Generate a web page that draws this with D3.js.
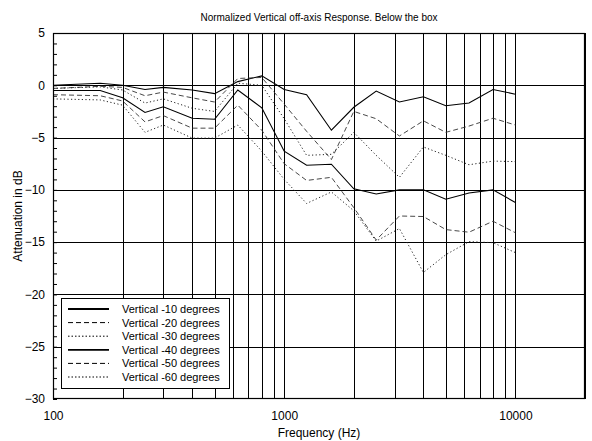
<!DOCTYPE html>
<html><head><meta charset="utf-8">
<script src="https://cdn.jsdelivr.net/npm/d3@7"></script>
<style>body{margin:0;background:#fff}svg{display:block}text{font-family:"Liberation Sans",Arial,sans-serif}</style>
</head><body><svg id="c" width="592" height="441"></svg>
<script>
const freqs = [100,160,200,250,300,400,500,630,800,1000,1250,1600,2000,2500,3150,4000,5000,6300,8000,10000];
const v10 = [0,0.2,0,-0.4,-0.2,-0.45,-0.8,0.35,0.9,-0.4,-0.9,-4.3,-2.1,-0.55,-1.6,-1.1,-1.95,-1.7,-0.4,-0.85];
const v20 = [-0.3,-0.1,-0.2,-1.0,-0.65,-1.2,-1.6,0.65,0.75,-1.8,-4.4,-7.1,-2.5,-3.2,-4.85,-3.4,-4.5,-3.9,-3.15,-3.8];
const v30 = [-0.3,-0.15,-0.45,-1.7,-1.3,-2.2,-2.5,0.2,0.0,-3.2,-6.7,-6.6,-4.5,-6.7,-8.8,-5.9,-6.7,-7.6,-7.25,-7.3];
const v40 = [-0.5,-0.5,-1.2,-2.6,-2.05,-3.15,-3.25,-0.45,-2.15,-6.3,-7.65,-7.55,-9.9,-10.4,-10.0,-10.0,-10.9,-10.3,-10.0,-11.2];
const v50 = [-0.9,-1.0,-1.5,-3.5,-2.9,-4.1,-4.1,-1.9,-4.3,-7.5,-9.1,-8.8,-11.7,-14.8,-12.5,-12.55,-13.8,-14.05,-13.0,-14.1];
const v60 = [-1.3,-1.4,-1.9,-4.5,-3.8,-5.05,-5.05,-3.8,-6.3,-9.0,-11.3,-10.2,-12.0,-14.9,-13.7,-17.9,-16.2,-14.95,-15.05,-16.0];
const seriesNames = ["Vertical -10 degrees","Vertical -20 degrees","Vertical -30 degrees","Vertical -40 degrees","Vertical -50 degrees","Vertical -60 degrees"];
const seriesValues = [v10,v20,v30,v40,v50,v60];
const xTickLabels = [100,1000,10000];
const yTickLabels = [5,0,-5,-10,-15,-20,-25,-30];

const styles = [
  {dash:null, color:"#000", w:1.1},
  {dash:"5,3", color:"#333", w:0.9},
  {dash:"1.2,2.4", color:"#222", w:1},
  {dash:null, color:"#000", w:1.1},
  {dash:"5,3", color:"#333", w:0.9},
  {dash:"1.2,2.4", color:"#222", w:1}
];

const svg = d3.select("#c");
const L=53, R=585, T=33, B=399;
const x = d3.scaleLog().domain([100,20000]).range([L,R]);
const y = d3.scaleLinear().domain([-30,5]).range([B,T]);

svg.append("text").attr("x",319).attr("y",21).attr("text-anchor","middle").attr("font-size",10).text("Normalized Vertical off-axis Response. Below the box");

// grid
const g = svg.append("g");
const xGrid = [];
for (let d=100; d<=10000; d*=10) for (let k=1;k<10;k++){ const f=d*k; if (f<=20000 && f>100) xGrid.push(f); }
xGrid.push(20000);
g.selectAll("line.vx").data(xGrid).join("line").attr("class","vx")
  .attr("x1",d=>Math.round(x(d))+0.5).attr("x2",d=>Math.round(x(d))+0.5).attr("y1",T).attr("y2",B)
  .attr("stroke","#000").attr("stroke-width",1);
g.selectAll("line.hy").data(d3.range(-25,5,5)).join("line").attr("class","hy")
  .attr("x1",L).attr("x2",R).attr("y1",d=>Math.round(y(d))+0.5).attr("y2",d=>Math.round(y(d))+0.5)
  .attr("stroke","#000").attr("stroke-width",1);

// y minor ticks
const yAxis = d3.axisRight(y).tickValues(d3.range(-30,6,1)).tickSize(4).tickFormat("");
const ya = svg.append("g").attr("transform",`translate(${L},0)`).call(yAxis);
ya.select(".domain").remove();
ya.selectAll("line").attr("stroke","#000");

// y labels
const yl = d3.axisLeft(y).tickValues(yTickLabels).tickSize(0).tickPadding(8).tickFormat(d3.format("d"));
const yg = svg.append("g").attr("transform",`translate(${L},0)`).call(yl);
yg.select(".domain").remove();
yg.selectAll("text").attr("font-size",12).attr("font-family","Liberation Sans, Arial, sans-serif").attr("fill","#000");

const xl = d3.axisBottom(x).tickValues(xTickLabels).tickSize(0).tickPadding(12).tickFormat(d3.format("d"));
const xg = svg.append("g").attr("transform",`translate(0,${B})`).call(xl);
xg.select(".domain").remove();
xg.selectAll("text").attr("font-size",12).attr("font-family","Liberation Sans, Arial, sans-serif").attr("fill","#000");

svg.append("text").attr("x",319).attr("y",437).attr("text-anchor","middle").attr("font-size",12).text("Frequency (Hz)");
svg.append("text").attr("transform","translate(22,216) rotate(-90)").attr("text-anchor","middle").attr("font-size",12).text("Attenuation in dB");

// lines
const line = d3.line().x((d,i)=>x(freqs[i])).y(d=>y(d));
seriesValues.forEach((vals,i)=>{
  svg.append("path").attr("d",line(vals)).attr("fill","none")
    .attr("stroke",styles[i].color).attr("stroke-width",styles[i].w)
    .attr("stroke-dasharray",styles[i].dash);
});

// frame
svg.append("rect").attr("x",L+0.5).attr("y",T+0.5).attr("width",R-L-1).attr("height",B-T-1)
  .attr("fill","none").attr("stroke","#000").attr("stroke-width",1.2);

// legend
const lg = svg.append("g");
lg.append("rect").attr("x",61.5).attr("y",298.5).attr("width",168).attr("height",90)
  .attr("fill","#fff").attr("stroke","#000").attr("stroke-width",1);
seriesNames.forEach((n,i)=>{
  const yy = 309 + i*13.6;
  lg.append("line").attr("x1",68).attr("x2",109).attr("y1",yy).attr("y2",yy)
    .attr("stroke","#000").attr("stroke-width",styles[i].dash?1:1.8)
    .attr("stroke-dasharray",styles[i].dash ? (styles[i].dash==="5,3"?"5,3":"1.5,2") : null);
  lg.append("text").attr("x",122).attr("y",yy+4).attr("font-size",11).text(n);
});
</script></body></html>
